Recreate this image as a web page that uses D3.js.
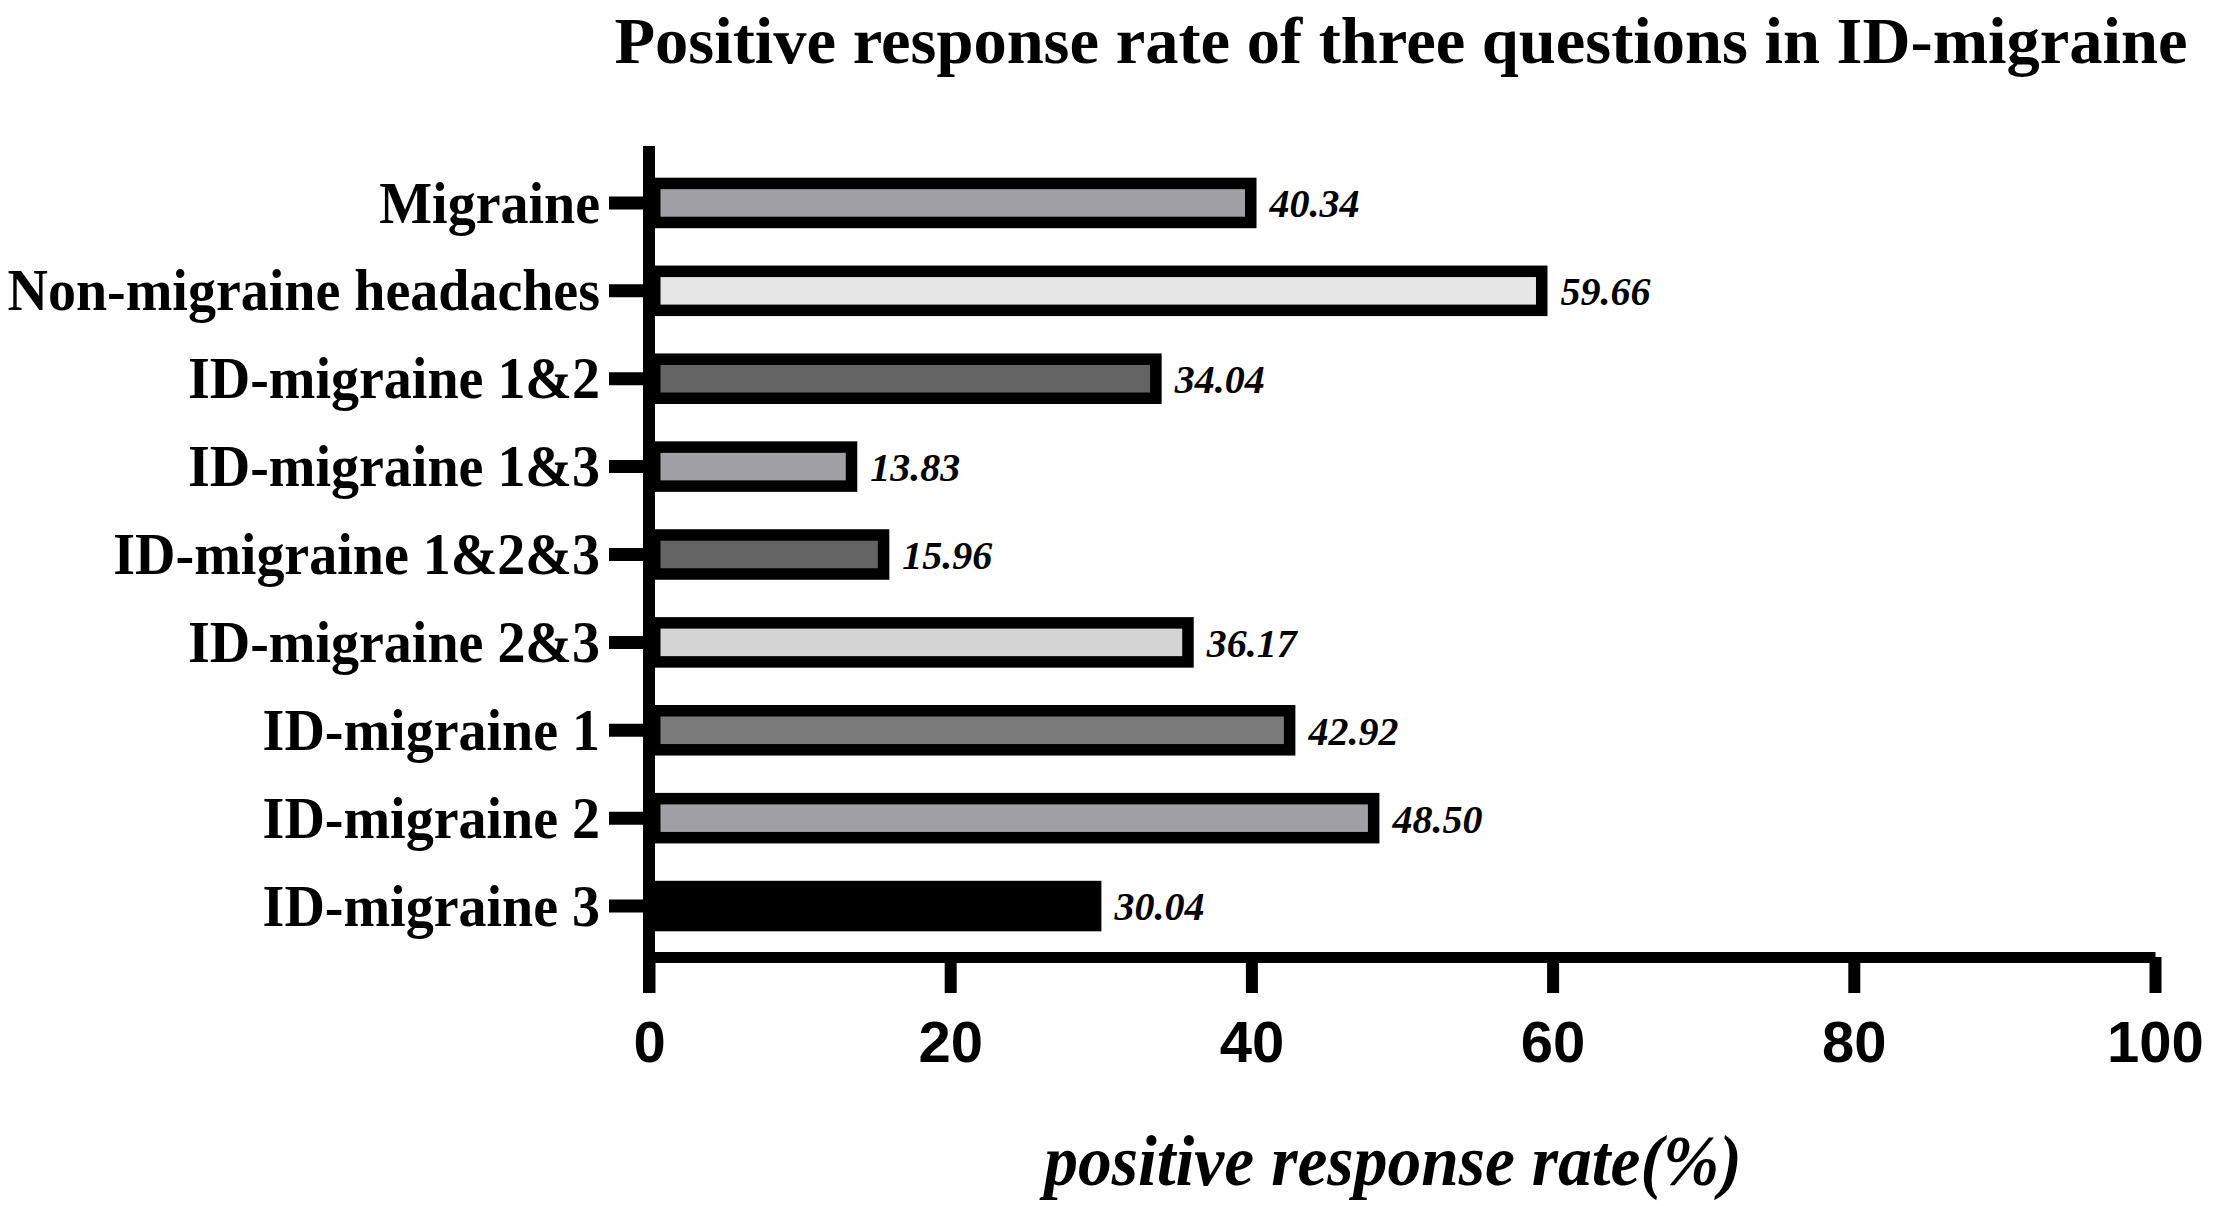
<!DOCTYPE html>
<html>
<head>
<meta charset="utf-8">
<script src="https://cdn.jsdelivr.net/npm/d3@7"></script>
<style>
  body { margin: 0; background: #fff; }
  svg { display: block; }
</style>
</head>
<body>
<div id="chart"></div>
<script>
const categories = ["Migraine", "Non-migraine headaches", "ID-migraine 1&2", "ID-migraine 1&3",
    "ID-migraine 1&2&3", "ID-migraine 2&3", "ID-migraine 1", "ID-migraine 2", "ID-migraine 3"];
const values = [40.34, 59.66, 34.04, 13.83, 15.96, 36.17, 42.92, 48.50, 30.04];
const fills = ["#a0a0a4", "#e6e6e6", "#646464", "#a0a0a4", "#646464", "#d4d4d4", "#7a7a7a", "#a0a0a4", "#000000"];
const xTicks = [0, 20, 40, 60, 80, 100];

const title = "Positive response rate of three questions in ID-migraine";
const xTitle = "positive response rate(%)";

const serif = "'Liberation Serif', 'Times New Roman', serif";
const sans = "'Liberation Sans', Arial, sans-serif";

const width = 2217, height = 1206;
const barStroke = 11.5;

const data = categories.map((c, i) => ({ name: c, value: values[i], fill: fills[i] }));

const svg = d3.select("#chart")
    .append("svg")
    .attr("width", width)
    .attr("height", height);

svg.append("rect").attr("width", width).attr("height", height).attr("fill", "#fff");

// scales
const x = d3.scaleLinear().domain([0, 100]).range([649, 2155]);
const y = d3.scaleBand()
    .domain(categories)
    .range([159, 950])
    .paddingInner(0.425)
    .paddingOuter(0.2125);

const axisY = 957;   // where the x axis sits

// bars (outer edge of the border ends at the value)
svg.append("g").selectAll("rect")
    .data(data)
    .join("rect")
    .attr("x", x(0) + barStroke / 2)
    .attr("y", d => y(d.name) + barStroke / 2)
    .attr("width", d => Math.max(0, x(d.value) - x(0) - barStroke))
    .attr("height", y.bandwidth() - barStroke)
    .attr("fill", d => d.fill)
    .attr("stroke", "#000")
    .attr("stroke-width", barStroke);

// value labels
svg.append("g").selectAll("text")
    .data(data)
    .join("text")
    .attr("x", d => x(d.value) + 13)
    .attr("y", d => y(d.name) + y.bandwidth() / 2)
    .attr("dy", "0.36em")
    .attr("font-family", serif)
    .attr("font-weight", "bold")
    .attr("font-style", "italic")
    .attr("font-size", 40)
    .attr("fill", "#000")
    .text(d => d3.format(".2f")(d.value));

// y axis
const gy = svg.append("g")
    .attr("transform", `translate(${x(0)},0)`)
    .call(d3.axisLeft(y).tickSize(40).tickSizeOuter(0).tickPadding(9));
gy.select(".domain").remove();
gy.selectAll(".tick line").attr("stroke", "#000").attr("stroke-width", 13);
gy.selectAll(".tick text")
    .attr("font-family", serif)
    .attr("font-weight", "bold")
    .attr("font-size", 56)
    .attr("fill", "#000")
    .attr("dy", "0.33em")
    .attr("transform", "scale(1,1.06)");
gy.append("line")
    .attr("x1", 0).attr("x2", 0)
    .attr("y1", 146).attr("y2", axisY + 36)
    .attr("stroke", "#000")
    .attr("stroke-width", 12);

// x axis
const gx = svg.append("g")
    .attr("transform", `translate(0,${axisY})`)
    .call(d3.axisBottom(x).tickValues(xTicks).tickSize(36).tickSizeOuter(0).tickPadding(28));
gx.select(".domain").attr("stroke", "#000").attr("stroke-width", 11);
gx.selectAll(".tick line").attr("stroke", "#000").attr("stroke-width", 12);
gx.selectAll(".tick text")
    .attr("font-family", sans)
    .attr("font-weight", "bold")
    .attr("font-size", 58)
    .attr("fill", "#000");

// title
svg.append("text")
    .attr("x", 1401)
    .attr("y", 63)
    .attr("text-anchor", "middle")
    .attr("font-family", serif)
    .attr("font-weight", "bold")
    .attr("font-size", 66.5)
    .text(title);

// x axis title
svg.append("g")
    .attr("transform", "translate(1393,1185)")
    .append("text")
    .attr("text-anchor", "middle")
    .attr("font-family", serif)
    .attr("font-weight", "bold")
    .attr("font-style", "italic")
    .attr("font-size", 67.5)
    .attr("transform", "scale(1,1.06)")
    .text(xTitle);
</script>
</body>
</html>
